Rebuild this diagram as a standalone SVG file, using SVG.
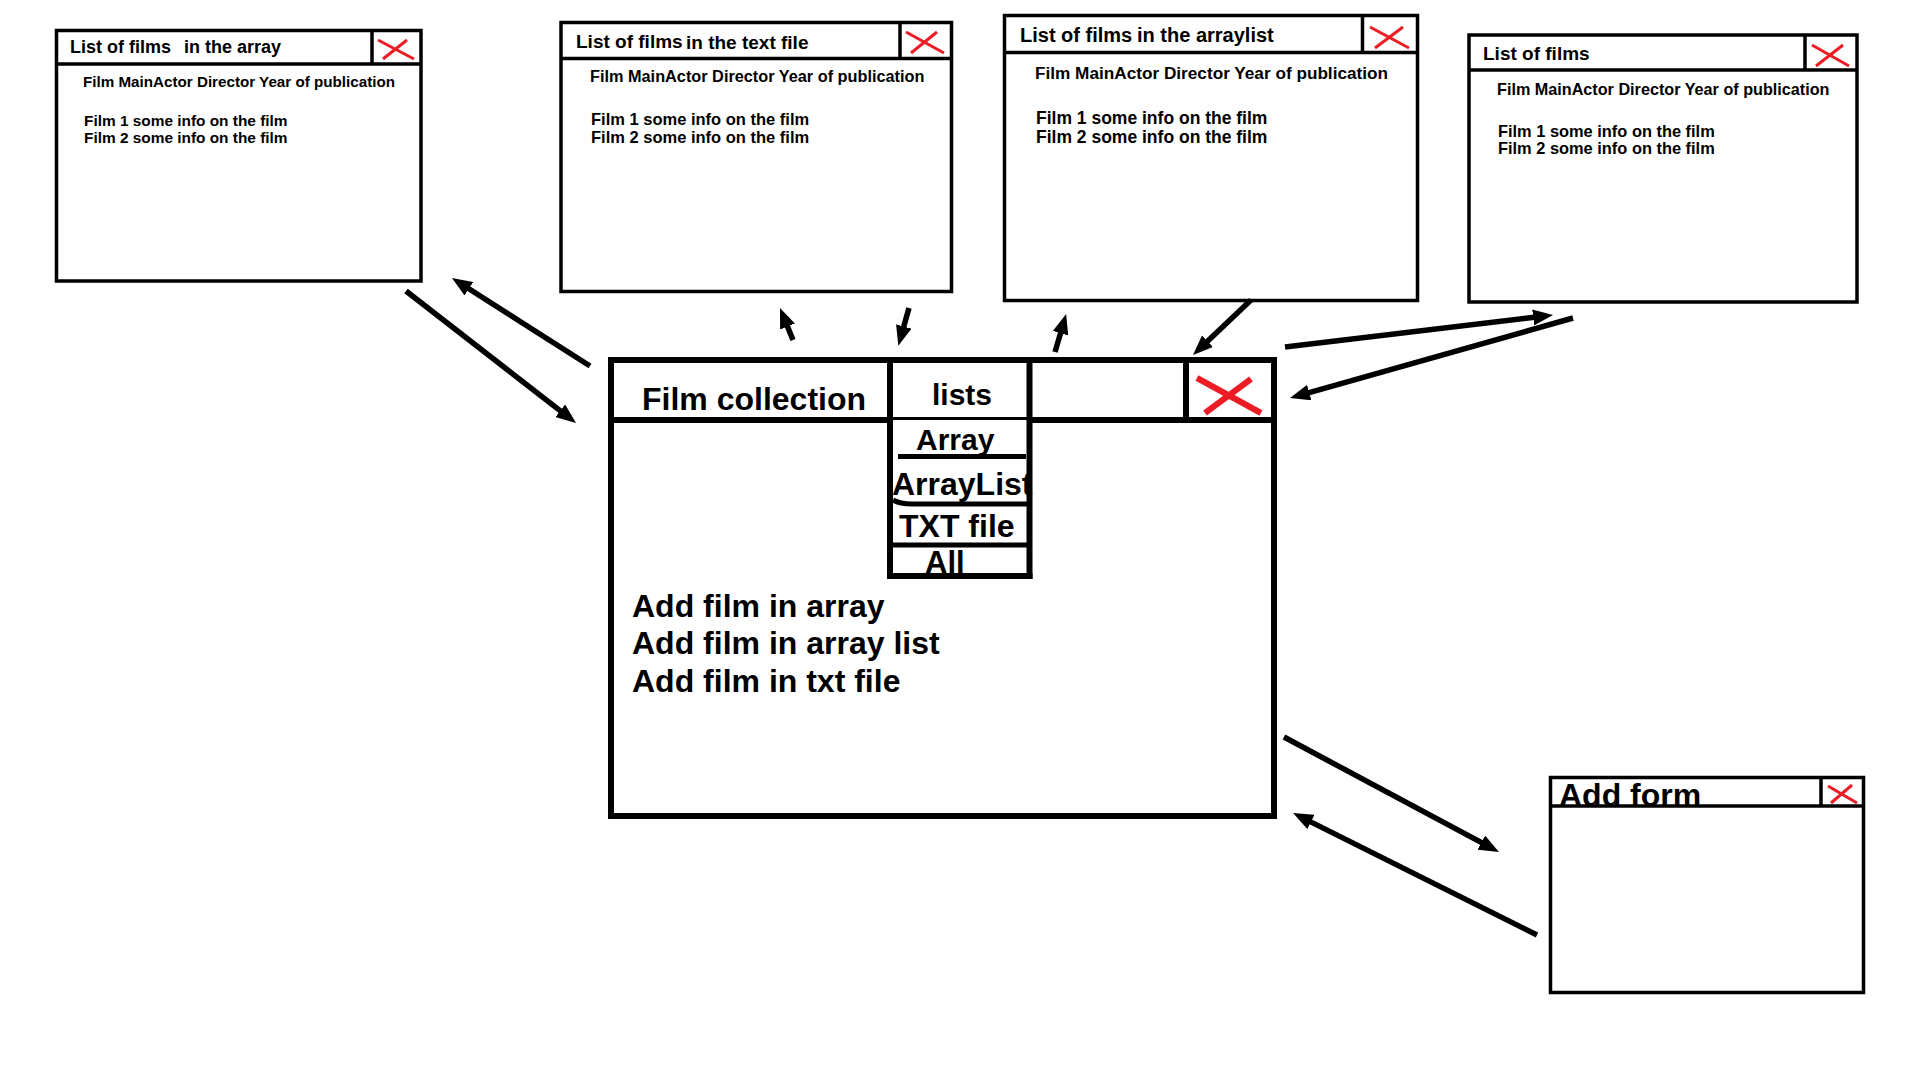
<svg xmlns="http://www.w3.org/2000/svg" width="1920" height="1080" viewBox="0 0 1920 1080">
<style>
  .frame { fill: #ffffff; stroke: #000; stroke-width: 3.5; }
  .ln { stroke: #000; stroke-width: 3.5; fill: none; }
  .lnb { stroke: #000; stroke-width: 6; fill: none; }
  .x { stroke: #ED1C24; stroke-width: 3; fill: none; }
  .xb { stroke: #ED1C24; stroke-width: 6; fill: none; }
  text { font-family: "Liberation Sans", Arial, sans-serif; font-weight: bold; fill: #000; }
  .arrow { stroke: #000; stroke-width: 5.5; fill: none; marker-end: url(#ah); }
</style>
<defs>
  <marker id="ah" markerUnits="userSpaceOnUse" markerWidth="20" markerHeight="16" refX="12" refY="8" orient="auto">
    <path d="M0,0 L20,8 L0,16 z" fill="#000"/>
  </marker>
</defs>
<rect width="1920" height="1080" fill="#fff"/>

<g id="win-array">
  <rect class="frame" x="56.5" y="30.5" width="364.5" height="250.5"/>
  <line class="ln" x1="56.5" y1="64" x2="421" y2="64"/>
  <line class="ln" x1="372" y1="30.5" x2="372" y2="64"/>
  <line class="x" x1="378" y1="40" x2="414" y2="59"/>
  <line class="x" x1="383" y1="59" x2="407" y2="40"/>
  <text x="70" y="53" font-size="18">List of films</text>
  <text x="184" y="53" font-size="18">in the array</text>
  <text x="83" y="87" font-size="15.2">Film MainActor Director Year of publication</text>
  <text x="84" y="126" font-size="15.4">Film 1 some info on the film</text>
  <text x="84" y="143" font-size="15.4">Film 2 some info on the film</text>
</g>

<g id="win-textfile">
  <rect class="frame" x="561" y="22.5" width="390.5" height="269"/>
  <line class="ln" x1="561" y1="58.5" x2="951.5" y2="58.5"/>
  <line class="ln" x1="900" y1="22.5" x2="900" y2="58.5"/>
  <line class="x" x1="906" y1="32" x2="944" y2="53"/>
  <line class="x" x1="911" y1="53" x2="937" y2="32"/>
  <text x="576" y="48" font-size="19">List of films</text>
  <text x="686" y="49" font-size="19">in the text file</text>
  <text x="590" y="82" font-size="16.3">Film MainActor Director Year of publication</text>
  <text x="591" y="125" font-size="16.5">Film 1 some info on the film</text>
  <text x="591" y="143" font-size="16.5">Film 2 some info on the film</text>
</g>

<g id="win-arraylist">
  <rect class="frame" x="1004.5" y="15.5" width="413" height="285"/>
  <line class="ln" x1="1004.5" y1="52.5" x2="1417.5" y2="52.5"/>
  <line class="ln" x1="1362.5" y1="15.5" x2="1362.5" y2="52.5"/>
  <line class="x" x1="1370" y1="27" x2="1409" y2="48"/>
  <line class="x" x1="1375" y1="48" x2="1403" y2="27"/>
  <text x="1020" y="42" font-size="20">List of films</text>
  <text x="1137" y="42" font-size="20">in the arraylist</text>
  <text x="1035" y="79" font-size="17.2">Film MainActor Director Year of publication</text>
  <text x="1036" y="124" font-size="17.5">Film 1 some info on the film</text>
  <text x="1036" y="143" font-size="17.5">Film 2 some info on the film</text>
</g>

<g id="win-all">
  <rect class="frame" x="1469" y="35" width="388" height="267"/>
  <line class="ln" x1="1469" y1="70" x2="1857" y2="70"/>
  <line class="ln" x1="1805" y1="35" x2="1805" y2="70"/>
  <line class="x" x1="1812" y1="45" x2="1849" y2="66"/>
  <line class="x" x1="1816" y1="66" x2="1843" y2="45"/>
  <text x="1483" y="60" font-size="19">List of films</text>
  <text x="1497" y="95" font-size="16.2">Film MainActor Director Year of publication</text>
  <text x="1498" y="137" font-size="16.4">Film 1 some info on the film</text>
  <text x="1498" y="154" font-size="16.4">Film 2 some info on the film</text>
</g>

<g id="win-main">
  <rect x="611" y="360" width="663" height="456" fill="#fff" stroke="#000" stroke-width="6"/>
  <text x="642" y="410" font-size="32">Film collection</text>
  <text x="962" y="405" font-size="30" text-anchor="middle">lists</text>
  <line class="lnb" x1="611" y1="420" x2="1274" y2="420"/>
  <line class="lnb" x1="1186" y1="360" x2="1186" y2="420"/>
  <line class="xb" x1="1197" y1="378" x2="1261" y2="413"/>
  <line class="xb" x1="1205" y1="413" x2="1251" y2="379"/>
  <g id="lists-menu">
    <rect x="890" y="420" width="139.5" height="156" fill="#fff"/>
    <text x="916" y="450" font-size="30">Array</text>
    <text x="892" y="495" font-size="32">ArrayList</text>
    <text x="899" y="537" font-size="32">TXT file</text>
    <text x="925" y="573" font-size="31">All</text>
    <line stroke="#000" stroke-width="5" x1="898" y1="456.5" x2="1026" y2="456.5"/>
    <path stroke="#000" stroke-width="5" fill="none" d="M893,500 Q900,504 912,504 L1028,504"/>
    <line stroke="#000" stroke-width="5" x1="890" y1="545" x2="1029" y2="545"/>
    <line class="lnb" x1="890" y1="360" x2="890" y2="579"/>
    <line class="lnb" x1="1029.5" y1="360" x2="1029.5" y2="579"/>
    <line class="lnb" x1="887" y1="576" x2="1032.5" y2="576"/>
  </g>
  <text x="632" y="617" font-size="32">Add film in array</text>
  <text x="632" y="654" font-size="32">Add film in array list</text>
  <text x="632" y="692" font-size="32">Add film in txt file</text>
</g>

<g id="win-addform">
  <rect class="frame" x="1550.5" y="777.5" width="313" height="215"/>
  <text x="1559" y="806" font-size="32">Add form</text>
  <line class="ln" x1="1550.5" y1="806" x2="1863.5" y2="806"/>
  <line class="ln" x1="1821" y1="777.5" x2="1821" y2="806"/>
  <line class="x" x1="1828" y1="786" x2="1857" y2="803"/>
  <line class="x" x1="1831" y1="803" x2="1852" y2="785"/>
</g>

<g id="connectors">
  <line class="arrow" x1="406" y1="291" x2="569.7" y2="418.1"/>
  <line class="arrow" x1="590" y1="366" x2="458.7" y2="282.3"/>
  <line class="arrow" x1="793" y1="340" x2="783" y2="315.4"/>
  <line class="arrow" x1="909" y1="308" x2="900.5" y2="338"/>
  <line class="arrow" x1="1055" y1="352" x2="1063.9" y2="321.7"/>
  <line class="arrow" x1="1251" y1="300" x2="1198.8" y2="349.5"/>
  <line class="arrow" x1="1285" y1="347" x2="1545.1" y2="316"/>
  <line class="arrow" x1="1573" y1="318" x2="1297.7" y2="395.8"/>
  <line class="arrow" x1="1284" y1="737" x2="1491.9" y2="848.2"/>
  <line class="arrow" x1="1537" y1="935" x2="1300.2" y2="816.6"/>
</g>
</svg>
